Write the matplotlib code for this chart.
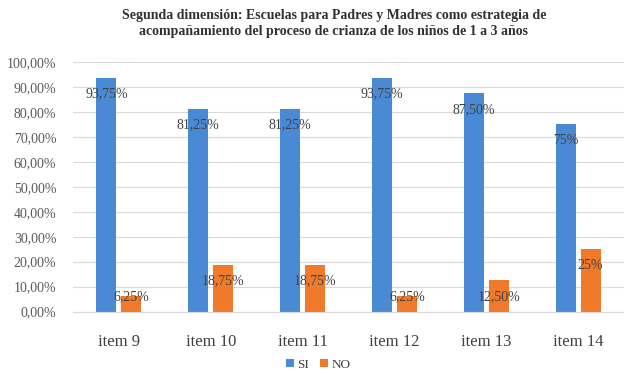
import numpy as np
import matplotlib.pyplot as plt
from matplotlib.ticker import FuncFormatter

items = ["item 9", "item 10", "item 11", "item 12", "item 13", "item 14"]
si = [93.75, 81.25, 81.25, 93.75, 87.50, 75.0]
no = [6.25, 18.75, 18.75, 6.25, 12.50, 25.0]
si_labels = ["93,75%", "81,25%", "81,25%", "93,75%", "87,50%", "75%"]
no_labels = ["6,25%", "18,75%", "18,75%", "6,25%", "12,50%", "25%"]

plt.rcParams['font.family'] = ['Liberation Serif', 'DejaVu Serif']

BLUE = "#4A8AD4"
ORANGE = "#EF7A2C"
GRAY = "#595959"

fig = plt.figure(figsize=(6.24, 3.74), dpi=100)
ax = fig.add_axes([0.117, 0.167, 0.883, 0.667])

x = np.arange(len(items))
w = 0.217
off = 0.136
b1 = ax.bar(x - off, si, w, color=BLUE, label="SI", zorder=2)
b2 = ax.bar(x + off, no, w, color=ORANGE, label="NO", zorder=2)

# labels sit a bit under the top of each bar
for xi, v, t in zip(x, si, si_labels):
    ax.text(xi - off, max(v - 6.5, 6.0), t, ha="center", va="center",
            fontsize=10, color="#404040", zorder=3)
for xi, v, t in zip(x, no, no_labels):
    ax.text(xi + off, max(v - 6.5, 6.0), t, ha="center", va="center",
            fontsize=10, color="#404040", zorder=3)

ax.set_ylim(0, 100)
ax.set_xlim(-0.5, len(items) - 0.5)
ax.set_yticks(np.arange(0, 101, 10))
ax.yaxis.set_major_formatter(FuncFormatter(lambda v, p: f"{v:.2f}%".replace(".", ",")))
ax.set_xticks(x)
ax.set_xticklabels(items, fontsize=12, color="#404040")
ax.tick_params(axis="y", labelsize=10, labelcolor=GRAY, length=0, pad=12)
ax.tick_params(axis="x", length=0, pad=16)
ax.grid(axis="y", color="#D9D9D9", linewidth=0.8, zorder=0)
for s in ["top", "right", "left"]:
    ax.spines[s].set_visible(False)
ax.spines["bottom"].set_color("#D9D9D9")

fig.text(0.535, 0.975,
         "Segunda dimensión: Escuelas para Padres y Madres como estrategia de\n"
         "acompañamiento del proceso de crianza de los niños de 1 a 3 años",
         ha="center", va="top", fontsize=10, fontweight="bold", color="#303030",
         linespacing=1.3)

fig.legend(handles=[b1, b2], labels=["SI", "NO"], loc="center",
           bbox_to_anchor=(0.51, 0.025), ncol=2, frameon=False, fontsize=9.5,
           handlelength=0.6, handleheight=0.6, handletextpad=0.3, columnspacing=0.8,
           labelcolor="#404040")

fig.savefig("out.png", dpi=100)
